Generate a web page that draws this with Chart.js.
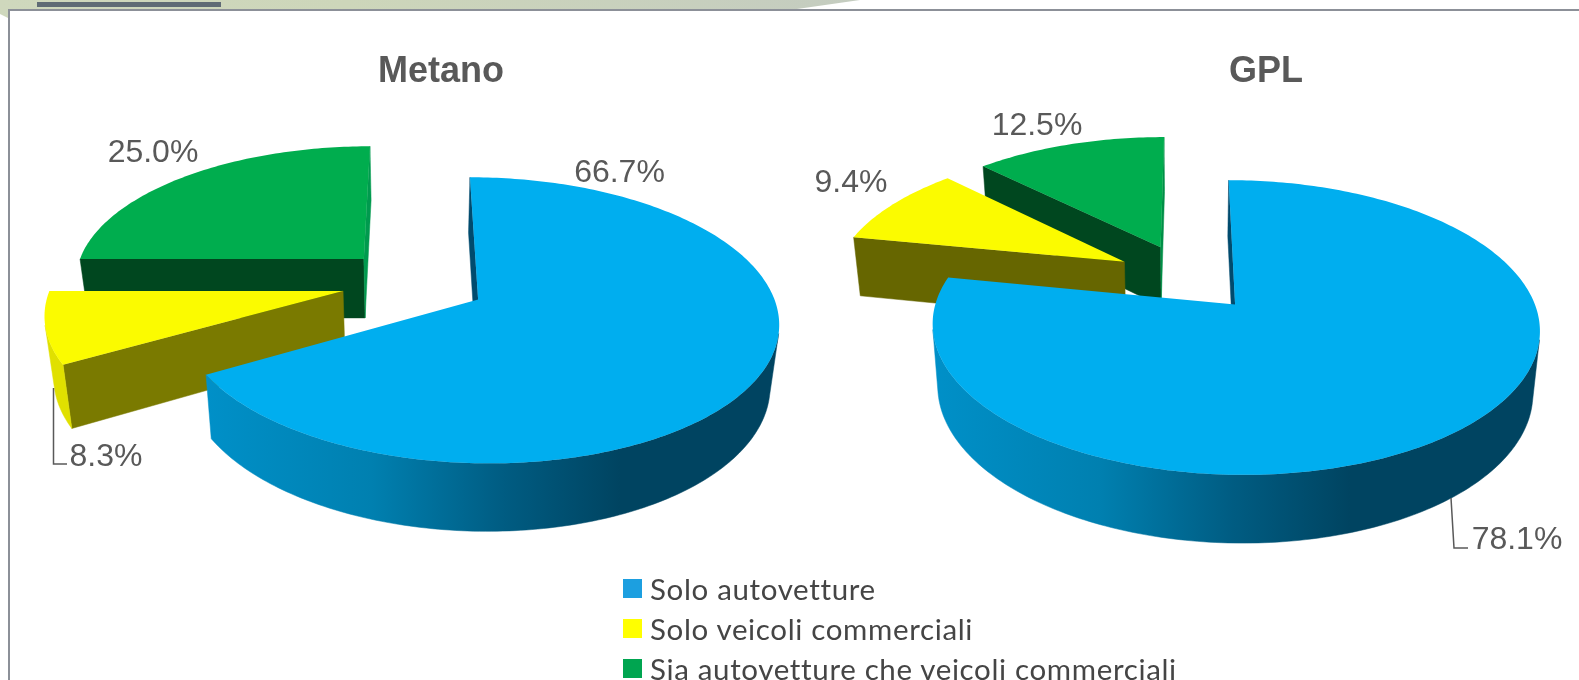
<!DOCTYPE html>
<html lang="it">
<head>
<meta charset="utf-8">
<title>Metano e GPL</title>
<style>
  html, body { margin: 0; padding: 0; width: 1579px; height: 680px; overflow: hidden; background: #fff; }
  #strip { position: absolute; left: 0; top: 0; width: 870px; height: 20px; background: linear-gradient(90deg, #cfd8bd 0%, #cdd6ba 40%, #c4ccc0 100%);
           clip-path: polygon(0 0, 860px 0, 790px 10px, 8px 10px, 8px 18px, 0 14px); }
  #bar { position: absolute; left: 37px; top: 2px; width: 184px; height: 5px; background: #5f6b75; }
  #frame { position: absolute; left: 8px; top: 9px; width: 1590px; height: 700px; border: 2px solid #8c9098; background: #fff; box-sizing: border-box; }
  canvas { position: absolute; top: 0; }
  #legend { position: absolute; left: 623px; top: 570px; font-family: Lato, sans-serif; font-size: 29.5px; letter-spacing: 0.65px; color: #454545; }
  #legend div { height: 40px; line-height: 38px; white-space: nowrap; position: relative; padding-left: 27px; }
  #legend i { position: absolute; left: 0; top: 9px; width: 19px; height: 19px; }
</style>
</head>
<body>
<div id="strip"></div>
<div id="bar"></div>
<div id="frame"></div>
<canvas id="metano" width="800" height="680" style="left:0"></canvas>
<canvas id="gpl" width="779" height="680" style="left:800px"></canvas>
<div id="legend"></div>
<script src="https://cdn.jsdelivr.net/npm/chart.js@4"></script>
<script>
// ---- data ----
const categories = ['Solo autovetture', 'Solo veicoli commerciali', 'Sia autovetture che veicoli commerciali'];
const metanoValues = [66.7, 8.3, 25.0];
const gplValues = [78.1, 9.4, 12.5];
const chartTitles = ['Metano', 'GPL'];

// ---- styles ----
const sliceColors = ['#00AEEF', '#FBFB00', '#00AD4E'];
const legendColors = ['#1C9FE0', '#FFFF00', '#00A550'];
const textColor = '#595959';
const explode = 25;

// ---- 3D pie rendering: projects library arcs through a perspective view ----
const pie3d = {
  id: 'pie3d',
  beforeDatasetsDraw(chart, args, o) {
    const ctx = chart.ctx, arcs = chart.getDatasetMeta(0).data;
    const project = (U, V) => {
      const w = 1 - o.k * V;
      const X = o.X0 + o.R * U / w, Y = o.Y0 + o.S * V / w;
      return {
        x: X - o.left, y: Y,
        bx: o.X0 + o.xs * (X - o.X0) - o.left,
        by: Y + o.d0 + o.ys * (Y - o.Y0)
      };
    };
    const facing = (p, q) => {
      const dx = q.x - p.x, dy = q.y - p.y;
      const ox = (p.bx - p.x + q.bx - q.x) / 2, oy = (p.by - p.y + q.by - q.y) / 2;
      return dy * ox - dx * oy > 0;
    };
    const wall = (pts, fill) => {
      ctx.beginPath();
      pts.forEach((p, i) => i ? ctx.lineTo(p.x, p.y) : ctx.moveTo(p.x, p.y));
      for (let i = pts.length - 1; i >= 0; i--) ctx.lineTo(pts[i].bx, pts[i].by);
      ctx.closePath();
      ctx.fillStyle = fill; ctx.fill();
      ctx.strokeStyle = fill; ctx.lineWidth = 0.5; ctx.stroke();
    };
    for (const i of o.order) {
      const arc = arcs[i];
      const e = arc.options.offset / 100;
      const a0 = arc.startAngle + Math.PI / 2, a1 = arc.endAngle + Math.PI / 2;
      const mid = (a0 + a1) / 2;
      const cu = e * Math.sin(mid), cv = -e * Math.cos(mid);
      const apex = project(cu, cv);
      const n = Math.max(8, Math.ceil((a1 - a0) / (Math.PI / 180)));
      const rim = [];
      for (let j = 0; j <= n; j++) {
        const t = a0 + (a1 - a0) * j / n;
        rim.push(project(cu + Math.sin(t), cv - Math.cos(t)));
      }
      // radial walls
      if (facing(apex, rim[0]) && o.startWall[i]) wall([apex, rim[0]], o.startWall[i]);
      if (facing(rim[n], apex) && o.endWall[i]) wall([rim[n], apex], o.endWall[i]);
      // outer wall
      let fill = o.outerWall[i];
      if (Array.isArray(fill)) {
        const g = ctx.createLinearGradient(fill[0] - o.left, 0, fill[1] - o.left, 0);
        g.addColorStop(0, '#0090C8'); g.addColorStop(0.4, '#0080B0'); g.addColorStop(0.72, '#005C82'); g.addColorStop(1, '#004461');
        fill = g;
      }
      let run = [];
      for (let j = 0; j < n; j++) {
        if (facing(rim[j], rim[j + 1])) {
          if (!run.length) run.push(rim[j]);
          run.push(rim[j + 1]);
        } else if (run.length) { wall(run, fill); run = []; }
      }
      if (run.length) wall(run, fill);
      // top face
      ctx.beginPath();
      ctx.moveTo(apex.x, apex.y);
      rim.forEach(p => ctx.lineTo(p.x, p.y));
      ctx.closePath();
      ctx.fillStyle = arc.options.backgroundColor;
      ctx.fill();
    }
    return false;
  },
  afterDraw(chart, args, o) {
    const ctx = chart.ctx;
    const vals = chart.data.datasets[0].data;
    ctx.save();
    ctx.fillStyle = textColor;
    ctx.font = '32px "Liberation Sans"';
    ctx.textAlign = 'center';
    ctx.textBaseline = 'middle';
    vals.forEach((v, i) => ctx.fillText(v.toFixed(1) + '%', o.labelAt[i][0] - o.left, o.labelAt[i][1]));
    ctx.strokeStyle = textColor;
    ctx.lineWidth = 1.5;
    ctx.beginPath();
    o.leader.forEach((p, i) => i ? ctx.lineTo(p[0] - o.left, p[1]) : ctx.moveTo(p[0] - o.left, p[1]));
    ctx.stroke();
    ctx.restore();
  }
};

function pieChart(id, title, values, padLeft, view) {
  return new Chart(document.getElementById(id), {
    type: 'pie',
    data: {
      labels: categories,
      datasets: [{ data: values, backgroundColor: sliceColors, borderWidth: 0, offset: explode }]
    },
    options: {
      responsive: false,
      animation: false,
      layout: { padding: { left: padLeft } },
      plugins: {
        legend: { display: false },
        tooltip: { enabled: false },
        title: {
          display: true, text: title, color: textColor,
          font: { family: '"Liberation Sans"', size: 36, weight: 'bold' },
          padding: { top: 50, bottom: 10 }
        },
        pie3d: view
      }
    },
    plugins: [pie3d]
  });
}

pieChart('metano', chartTitles[0], metanoValues, 82, {
  left: 0, X0: 414, Y0: 282.2, R: 291, S: 135, k: 0.1435, xs: 0.975, ys: 0.044, d0: 60,
  order: [2, 1, 0],
  startWall: ['#004B6E', '#7A7A00', '#00471F'],
  endWall: [null, null, '#009A4E'],
  outerWall: [[206, 620], '#E0E000', '#00471F'],
  labelAt: [[619.5, 173.5], [106, 457.5], [153, 153.5]],
  leader: [[53.5, 388], [53.5, 464], [67, 464]]
});

pieChart('gpl', chartTitles[1], gplValues, 153, {
  left: 800, X0: 1187.5, Y0: 277.5, R: 291, S: 135.4, k: 0.152, xs: 0.98, ys: 0.041, d0: 60.2,
  order: [2, 1, 0],
  startWall: ['#004B6E', '#666600', '#00471F'],
  endWall: [null, null, '#008F47'],
  outerWall: [[933, 1350], '#E0E000', '#00471F'],
  labelAt: [[1517, 540.5], [851, 183.5], [1037, 126.5]],
  leader: [[1451, 498], [1454, 548], [1468, 548]]
});

// ---- legend ----
const legend = document.getElementById('legend');
categories.forEach((c, i) => {
  const row = document.createElement('div');
  const sw = document.createElement('i');
  sw.style.background = legendColors[i];
  row.appendChild(sw);
  row.appendChild(document.createTextNode(c));
  legend.appendChild(row);
});
</script>
</body>
</html>
